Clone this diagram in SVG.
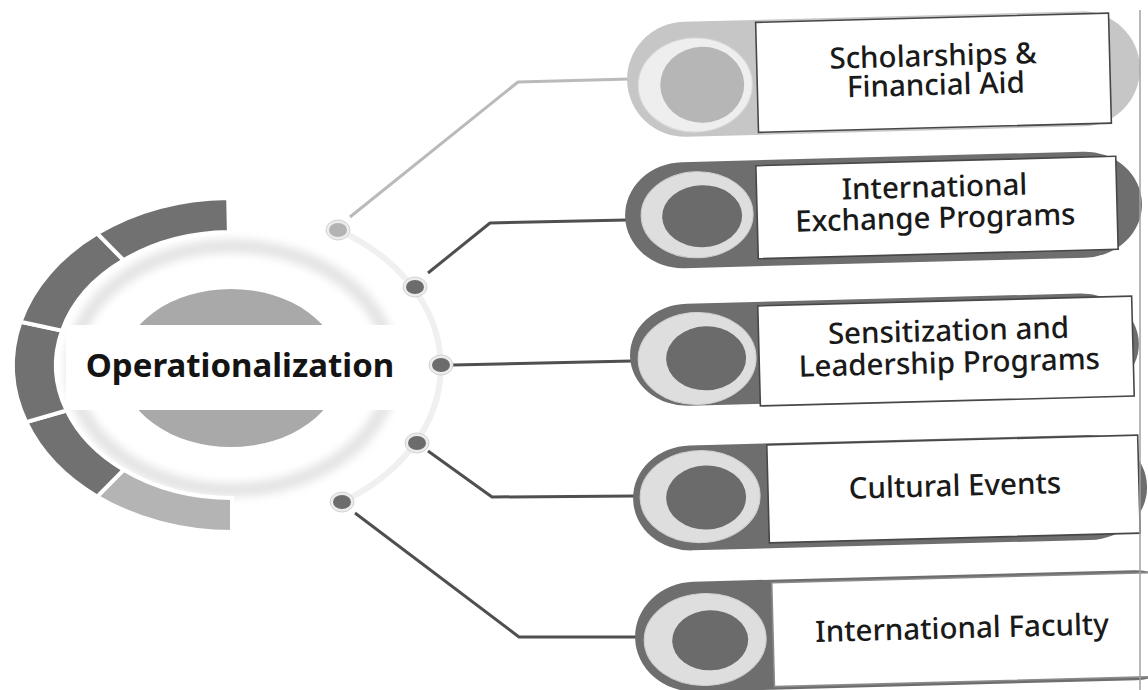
<svg xmlns="http://www.w3.org/2000/svg" width="1148" height="690" viewBox="0 0 1148 690">
<defs>
<filter id="soft" x="-20%" y="-20%" width="140%" height="140%"><feGaussianBlur stdDeviation="4"/></filter>
<style>
.seg{stroke:#fff;stroke-width:4;stroke-linejoin:miter}
.segd{fill:#717171}
.segl{fill:#b4b4b4}
.lbl{font-family:"Noto Sans","Liberation Sans",sans-serif;font-size:29.5px;font-weight:500;fill:#1a1a1a;text-anchor:middle}
.title{font-family:"Noto Sans","Liberation Sans",sans-serif;font-size:33px;font-weight:bold;fill:#141414;text-anchor:middle}
.capd{fill:#6e6e6e}
.capl{fill:#c6c6c6}
.ring{fill:#dedede;stroke:#cfcfcf;stroke-width:1}
.ringl{fill:#eeeeee;stroke:#dadada;stroke-width:1}
.disk{fill:#6b6b6b}
.diskl{fill:#b6b6b6}
.box{fill:#fff;stroke:#474747;stroke-width:1.6}
.conn{fill:none;stroke-width:3;stroke-linejoin:round}
.dotring{fill:#ececec;stroke:#d2d2d2;stroke-width:1}
.dot{fill:#6c6c6c}
.dotl{fill:#b3b3b3}
</style>
</defs>
<rect x="0" y="0" width="1148" height="690" fill="#fff"/>

<g id="hub">
  <path d="M338,230 A209,159 0 0 1 342,502" fill="none" stroke="#f0f0f0" stroke-width="6"/>
  <ellipse cx="232" cy="368" rx="160" ry="122" fill="none" stroke="#e4e4e4" stroke-width="14" filter="url(#soft)"/>
  <path class="seg segl" d="M232,532 A219,167 0 0 1 97.2,496.6 L123.6,469.8 A176,133 0 0 0 232,498 Z"/>
  <path class="seg segd" d="M97.2,496.6 A219,167 0 0 1 26.2,422.1 L66.6,410.5 A176,133 0 0 0 123.6,469.8 Z"/>
  <path class="seg segd" d="M26.2,422.1 A219,167 0 0 1 20.5,321.8 L62,330.6 A176,133 0 0 0 66.6,410.5 Z"/>
  <path class="seg segd" d="M20.5,321.8 A219,167 0 0 1 97.2,233.4 L123.6,260.2 A176,133 0 0 0 62,330.6 Z"/>
  <path class="seg segd" d="M97.2,233.4 A219,167 0 0 1 228.2,198 L228.9,232 A176,133 0 0 0 123.6,260.2 Z"/>
  <ellipse cx="231" cy="368" rx="109" ry="79" fill="#a9a9a9"/>
  <rect x="66" y="325" width="362" height="85" fill="#fff"/>
  <text class="title" x="240" y="377">Operationalization</text>
</g>

<g id="connectors">
  <path class="conn" stroke="#bababa" d="M350,217 L518,82 L630,79"/>
  <path class="conn" stroke="#4f4f4f" d="M428,273 L490,223 L627,220"/>
  <path class="conn" stroke="#4f4f4f" d="M453,365 L632,361"/>
  <path class="conn" stroke="#4f4f4f" d="M428,451 L492,497 L634,496"/>
  <path class="conn" stroke="#4f4f4f" d="M355,513 L519,637 L636,637"/>
</g>

<g id="dots">
  <ellipse class="dotring" cx="338" cy="230" rx="12" ry="10"/><ellipse class="dotl" cx="338" cy="230" rx="9" ry="7"/>
  <ellipse class="dotring" cx="415" cy="287" rx="12" ry="10"/><ellipse class="dot" cx="415" cy="287" rx="9" ry="7"/>
  <ellipse class="dotring" cx="441" cy="365" rx="12" ry="10"/><ellipse class="dot" cx="441" cy="365" rx="9" ry="7"/>
  <ellipse class="dotring" cx="417" cy="443" rx="12" ry="10"/><ellipse class="dot" cx="417" cy="443" rx="9" ry="7"/>
  <ellipse class="dotring" cx="342" cy="502" rx="12" ry="10"/><ellipse class="dot" cx="342" cy="502" rx="9" ry="7"/>
</g>

<g id="node-scholarships" transform="translate(933.5,72.75) rotate(-1.5)">
  <rect class="capl" x="-306.5" y="-57.5" width="513" height="115" rx="58" ry="57.5"/>
  <ellipse class="ringl" cx="-238.5" cy="6" rx="57" ry="47"/>
  <ellipse class="diskl" cx="-231.5" cy="6" rx="42" ry="38"/>
  <rect class="box" x="-176.5" y="-55" width="353" height="110"/>
  <text class="lbl" x="0" y="-6.75">Scholarships &amp;</text>
  <text class="lbl" x="2" y="22.25">Financial Aid</text>
</g>

<g id="node-exchange" transform="translate(937,207.5) rotate(-1.5)">
  <rect class="capd" x="-312" y="-52" width="517" height="106" rx="58" ry="53"/>
  <ellipse class="ring" cx="-240" cy="1" rx="56" ry="43"/>
  <ellipse class="disk" cx="-235" cy="2.5" rx="40" ry="31"/>
  <rect class="box" x="-180" y="-46.5" width="360" height="93"/>
  <text class="lbl" x="-2" y="-10.5">International</text>
  <text class="lbl" x="-2" y="20.5">Exchange Programs</text>
</g>

<g id="node-sensitization" transform="translate(946,351) rotate(-1.5)">
  <rect class="capd" x="-316" y="-54" width="509" height="102" rx="58" ry="51"/>
  <ellipse class="ring" cx="-249" cy="1" rx="59" ry="46"/>
  <ellipse class="disk" cx="-240" cy="1" rx="40" ry="32"/>
  <rect class="box" x="-187" y="-50" width="374" height="100"/>
  <text class="lbl" x="3" y="-10">Sensitization and</text>
  <text class="lbl" x="3" y="22">Leadership Programs</text>
</g>

<g id="node-cultural" transform="translate(953.5,489) rotate(-1.5)">
  <rect class="capd" x="-320.5" y="-50.5" width="514" height="105" rx="58" ry="52"/>
  <ellipse class="ring" cx="-253.5" cy="1" rx="60" ry="46"/>
  <ellipse class="disk" cx="-247.5" cy="2" rx="40" ry="32"/>
  <rect class="box" x="-185.5" y="-49" width="371" height="98"/>
  <text class="lbl" x="1.5" y="7">Cultural Events</text>
</g>

<g id="node-faculty" transform="translate(966,629.6) rotate(-1.5)">
  <rect class="capd" x="-331" y="-55" width="560" height="110" rx="60" ry="55"/>
  <ellipse class="ring" cx="-261" cy="3" rx="61" ry="46"/>
  <ellipse class="disk" cx="-256" cy="4" rx="38" ry="30"/>
  <rect class="box" x="-193" y="-52" width="400" height="104" style="stroke:#8a8a8a"/>
  <text class="lbl" x="-4" y="8.4">International Faculty</text>
</g>

<line x1="1140" y1="10" x2="1140" y2="690" stroke="#a0a0a0" stroke-width="1.5"/>
</svg>
